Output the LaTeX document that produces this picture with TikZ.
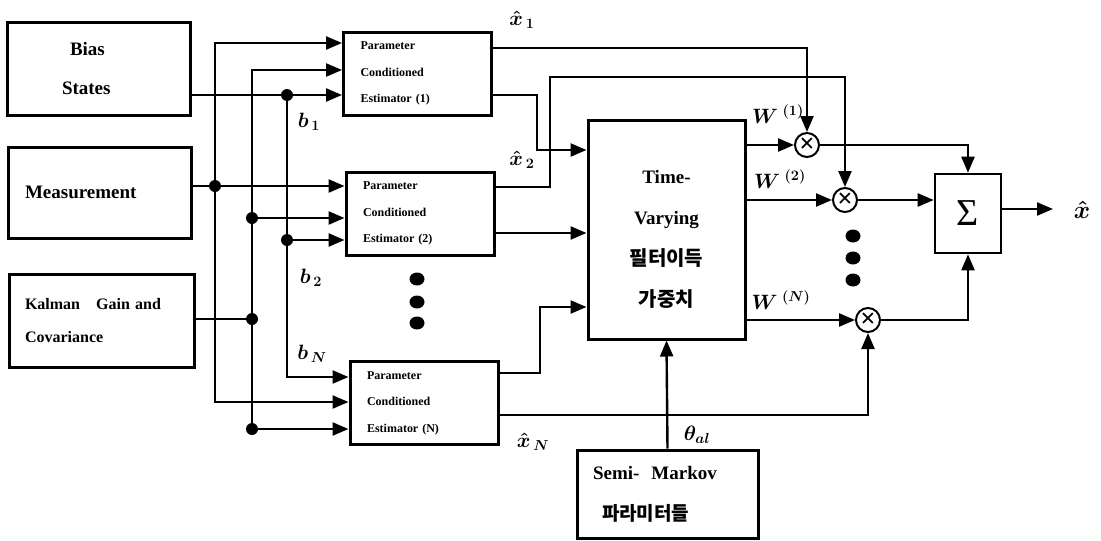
\documentclass[tikz,border=0pt]{standalone}
\usepackage{fontspec}
\setmainfont{Liberation Serif}
\newfontfamily\kr{Noto Sans CJK KR}
\usetikzlibrary{arrows.meta,shapes.geometric}
\begin{document}
\begin{tikzpicture}[x=1pt,y=-1pt,
  box/.style={draw,line width=3pt,inner sep=0pt},
  ln/.style={line width=2.4pt,line join=miter},
  arr/.style={ln,-{Triangle[length=16pt,width=13pt]}},
  both/.style={ln,{Triangle[length=16pt,width=13pt]}-{Triangle[length=16pt,width=13pt]}},
  est/.style={box,minimum height=83pt,text width=114pt,inner xsep=17pt,align=left,
              font=\bfseries\fontsize{12}{26.5}\selectfont},
  mul/.style={draw,circle,line width=2pt,minimum size=24pt,inner sep=0pt,
              font=\bfseries\fontsize{27}{27}\selectfont},
  jdot/.style={circle,fill,inner sep=0pt,minimum size=12pt},
  vdot/.style={ellipse,fill,inner sep=0pt,minimum width=15pt,minimum height=13pt},
  lab/.style={font=\fontsize{20}{24}\selectfont\boldmath,inner sep=0pt}
]
\useasboundingbox (0,0) rectangle (1101,541);

% source boxes
\node[box,minimum width=183pt,minimum height=93pt,text width=183pt,inner xsep=0pt,align=left,
      font=\bfseries\fontsize{19}{39}\selectfont] (bias) at (98.5,68.5)
      {\hspace*{63pt}Bias\\\hspace*{55pt}States};
\node[box,minimum width=183pt,minimum height=91pt,text width=149pt,inner xsep=17pt,align=left,
      font=\bfseries\fontsize{19}{23}\selectfont] (meas) at (99.5,192.5) {Measurement};
\node[box,minimum width=185pt,minimum height=93pt,text width=153pt,inner xsep=16pt,align=left,
      font=\bfseries\fontsize{16}{33}\selectfont] (kal) at (101.5,320.5) {Kalman\hspace{16pt}Gain and\\Covariance};

% estimators
\node[est] (est1) at (417.5,73.5) {Parameter\\Conditioned\\Estimator (1)};
\node[est] (est2) at (420,213.5) {Parameter\\Conditioned\\Estimator (2)};
\node[est] (estN) at (424,403) {Parameter\\Conditioned\\Estimator (N)};

% central, semi-markov, sum
\node[box,minimum width=157pt,minimum height=219pt,align=center,
      font=\bfseries\fontsize{19}{41}\selectfont] (tv) at (666.5,229.5)
      {\mbox{}\\[-8pt]Time-\\Varying\\{\kr\fontsize{20}{41}\selectfont 필터이득}\\{\kr\fontsize{20}{41}\selectfont 가중치}};
\node[box,minimum width=181pt,minimum height=88pt,text width=149pt,inner xsep=16pt,align=left,
      font=\bfseries\fontsize{19}{41}\selectfont] (sm) at (667.5,494)
      {Semi-\hspace{12pt}Markov\\\hspace*{9pt}{\kr\fontsize{19}{41}\selectfont 파라미터들}};
\node[box,line width=2.6pt,minimum width=66pt,minimum height=79pt,
      font=\fontsize{38}{40}\selectfont] (sum) at (968,213.5) {Σ};

% multipliers
\node[mul] (m1) at (807,145) {×};
\node[mul] (m2) at (845,200) {×};
\node[mul] (mN) at (868,320) {×};

% routing coordinates (left)
\coordinate (cA) at (215,43);
\coordinate (cB) at (252,70);
\coordinate (jC1) at (287,95);
\coordinate (jA) at (215,186);
\coordinate (jB2) at (252,218);
\coordinate (jC2) at (287,240);
\coordinate (jBk) at (252,319);
\coordinate (cC) at (287,377);
\coordinate (cA2) at (215,402);
\coordinate (jB3) at (252,429);

\draw[arr] (bias.east |- jC1) -- (est1.west |- jC1);
\draw[both] (est1.west |- cA) -- (cA) -- (cA2) -- (estN.west |- cA2);
\draw[both] (est1.west |- cB) -- (cB) -- (jB3) -- (estN.west |- jB3);
\draw[arr] (jC1) -- (cC) -- (estN.west |- cC);
\draw[arr] (meas.east |- jA) -- (est2.west |- jA);
\draw[arr] (jB2) -- (est2.west |- jB2);
\draw[arr] (jC2) -- (est2.west |- jC2);
\draw[ln] (kal.east |- jBk) -- (jBk);
\foreach \c in {jC1,jA,jB2,jC2,jBk,jB3} \node[jdot] (d\c) at (\c) {};

% routing coordinates (right)
\coordinate (r1) at (807,48);
\coordinate (r2a) at (537,95);
\coordinate (r2b) at (537,150);
\coordinate (r3a) at (550,187);
\coordinate (r3b) at (550,77);
\coordinate (r3c) at (845,77);
\coordinate (r4) at (560,233);
\coordinate (r5a) at (540,373);
\coordinate (r5b) at (540,307);
\coordinate (r6) at (868,415);
\coordinate (s1) at (968,145);
\coordinate (s3) at (968,320);
\coordinate (xo) at (1053,209);

\draw[arr] (est1.east |- r1) -- (r1) -- (m1.north);
\draw[arr] (est1.east |- r2a) -- (r2a) -- (r2b) -- (tv.west |- r2b);
\draw[arr] (est2.east |- r3a) -- (r3a) -- (r3b) -- (r3c) -- (m2.north);
\draw[arr] (est2.east |- r4) -- (tv.west |- r4);
\draw[arr] (estN.east |- r5a) -- (r5a) -- (r5b) -- (tv.west |- r5b);
\draw[arr] (estN.east |- r6) -- (r6) -- (mN.south);
\draw[arr] (tv.east |- m1) -- (m1.west);
\draw[arr] (tv.east |- m2) -- (m2.west);
\draw[arr] (tv.east |- mN) -- (mN.west);
\draw[arr] (m1.east) -- (s1) -- (sum.north);
\draw[arr] (m2.east) -- (sum.west |- m2);
\draw[arr] (mN.east) -- (s3) -- (sum.south);
\draw[arr] (sum.east |- xo) -- (xo);
\draw[arr] (sm.north) -- (tv.south);

% ellipsis dots
\node[vdot] (v1) at (417,279) {};
\node[vdot] (v2) at (417,302) {};
\node[vdot] (v3) at (417,323) {};
\node[vdot] (w1) at (853,236) {};
\node[vdot] (w2) at (853,258) {};
\node[vdot] (w3) at (853,280) {};

% labels
\node[lab] (lx1) at (522,20) {$\hat{x}_{\,1}$};
\node[lab] (lx2) at (522,160) {$\hat{x}_{\,2}$};
\node[lab] (lxN) at (533,442) {$\hat{x}_{\,N}$};
\node[lab] (lb1) at (309,122) {$b_{\,1}$};
\node[lab] (lb2) at (311,278) {$b_{\,2}$};
\node[lab] (lbN) at (312,354) {$b_{\,N}$};
\node[lab] (lw1) at (778,114) {$W^{\;(1)}$};
\node[lab] (lw2) at (780,179) {$W^{\;(2)}$};
\node[lab] (lwN) at (781,300) {$W^{\;(N)}$};
\node[lab] (lth) at (697,435) {$\theta_{al}$};
\node[lab,font=\fontsize{28}{30}\selectfont\boldmath] (lx) at (1082,210) {$\hat{x}$};
\end{tikzpicture}
\end{document}
